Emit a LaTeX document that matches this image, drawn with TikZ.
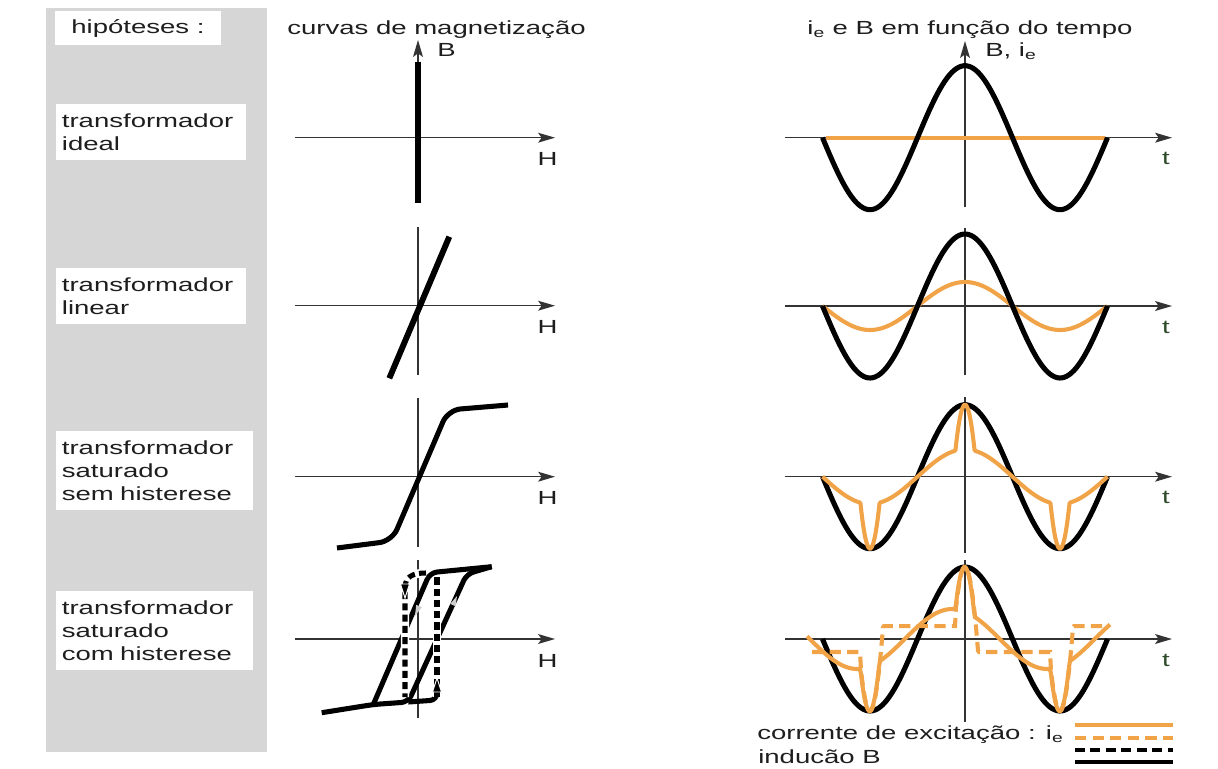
\documentclass[tikz,border=0pt]{standalone}
\usepackage{fontspec}
\newfontfamily\lbl[FakeStretch=1.45]{Liberation Sans}
\usetikzlibrary{positioning,calc,arrows.meta}
\definecolor{orng}{RGB}{241,163,72}
\definecolor{panel}{RGB}{214,214,214}
\definecolor{ink}{RGB}{30,30,30}
\definecolor{tcol}{RGB}{45,75,40}

\begin{document}
\begin{tikzpicture}[x=0.025cm, y=-0.025cm, >={Stealth[length=12pt,width=7pt,inset=2.5pt]},
  txt/.style={font=\lbl\fontsize{13.5pt}{16.4pt}\selectfont, text=ink, inner sep=0pt},
  box/.style={txt, fill=white, align=left, anchor=north west, inner xsep=4pt, inner ysep=6.5pt},
  axis/.style={line width=1.1pt, draw=black!80},
  Bcurve/.style={line width=3.6pt, black},
  icurve/.style={line width=2.9pt, orng},
  idash/.style={icurve, dash pattern=on 8pt off 4.5pt},
  bdash/.style={line width=3.6pt, black, dash pattern=on 5pt off 3pt},
  halo/.style={line width=6pt, white},
  declare function={
    ph(\x)=(\x-965)*1.8947;
    bb(\x)=cos(ph(\x));
    sat(\u)=(abs(\u)<0.95)*0.38*(\u)+(abs(\u)>=0.95)*((\u>0)-(\u<0))*(0.361+(abs(\u)-0.95)*12.78);
    fall(\u)=(\u<-0.95)*sat(\u)+(\u>=-0.95)*max(-0.18,1-(1-(\u))*12.78);
    rise(\u)=(\u>0.95)*sat(\u)+(\u<=0.95)*min(0.18,-1+(1+(\u))*12.78);
    hys(\x)=sat(bb(\x))-0.17*sin(ph(\x));
    stp(\x)=(sin(ph(\x))>0)*fall(bb(\x))+(sin(ph(\x))<=0)*rise(bb(\x));
  }]

\fill[white] (0,0) rectangle (1218,769);
\useasboundingbox (0,0) rectangle (1218,769);

% left column
\fill[panel] (46,8) rectangle (266.5,752);
\node[txt, fill=white, minimum width=4.15cm, minimum height=0.85cm] (hyp) at (138,28.4) {hipóteses :};
\node[box, text width=4.465cm] (r1) at (56,104) {transformador\\ideal};
\node[box, text width=4.465cm] (r2) at (56,268) {transformador\\linear};
\node[box, text width=4.64cm] (r3) at (56,431) {transformador\\saturado\\sem histerese};
\node[box, text width=4.64cm] (r4) at (56,591) {transformador\\saturado\\com histerese};

% titles
\node[txt, anchor=base] (tmag) at (436.5,34.5) {curvas de magnetização};
\node[txt, anchor=base] (ttim) at (970,34.5) {i\textsubscript{e} e B em função do tempo};

% magnetization curves
\coordinate (Bo) at (418,203);
\coordinate (Bt) at (418,40);
\draw[axis,<-] (Bt) -- (Bo);
\node[txt, anchor=base west] (lB) at (437,56) {B};
\foreach \y [count=\k] in {137.7,305.7,476.7,639}
  \draw[axis,->] (295,\y) -- (555,\y) node[txt, anchor=base] (lH\k) at (547.5,\y+28) {H};
\draw[axis] (418,226.7) -- (418,375);
\draw[axis] (418,398) -- (418,547);
\draw[axis] (418,560) -- (418,718);

\draw[Bcurve, line width=4.3pt] (418,61.7) -- (418,203.3);
\draw[Bcurve, line width=4.2pt] (389.3,378.3) -- (449.3,236.7);
\draw[Bcurve, rounded corners=9pt] (337,548) -- (392,541) -- (448,410) -- (508,405);

% hysteresis loop
\draw[Bcurve, rounded corners=5pt] (321.7,712.7) -- (373.3,704.5) -- (408.3,702) -- (466.7,574) -- (491.7,566.7);
\draw[Bcurve, rounded corners=5pt] (491.7,566.7) -- (430,572.7) -- (373.3,704.5);
\draw[Bcurve, rounded corners=5pt] (408.3,702) -- (437,700) -- (437,690);
\draw[halo] (426,573) .. controls (412,573) and (405,577) .. (405,588) -- (405,697);
\draw[bdash] (426,573) .. controls (412,573) and (405,577) .. (405,588) -- (405,697);
\draw[halo] (437,697) -- (437,577);
\draw[bdash] (437,697) -- (437,577);
\filldraw[fill=black, draw=white, line width=0.7pt] (405,598) -- (409.5,584) -- (400.5,584) -- cycle;
\filldraw[fill=black, draw=white, line width=0.7pt] (437,678) -- (441.5,692) -- (432.5,692) -- cycle;
\fill[gray!40] (415,616) -- (421.8,607.2) -- (416.2,604.8) -- cycle;
\fill[gray!40] (457,596) -- (455.6,606.3) -- (450.2,603.9) -- cycle;

% time curves
\coordinate (To) at (965,207);
\coordinate (Tt) at (965,41);
\draw[axis,<-] (Tt) -- (To);
\node[txt, anchor=base west] (lBi) at (985,56.7) {B, i\textsubscript{e}};
\draw[axis] (965,228) -- (965,375);
\draw[axis] (965,397) -- (965,553);
\draw[axis] (965,560) -- (965,722);
\foreach \y [count=\k] in {137.7,306,476.7,639}
  \draw[axis,->] (785,\y) -- (1172,\y) node[txt, text=tcol, anchor=base] (lt\k) at (1166,\y+27) {t};

\draw[icurve] (826,137.7) -- (1105,137.7);
\draw[Bcurve] plot[domain=822.5:1107.5, samples=120] (\x,{137.7-72*bb(\x)});

\draw[icurve] plot[domain=822.5:1107.5, samples=120] (\x,{306-24*bb(\x)});
\draw[Bcurve] plot[domain=822.5:1107.5, samples=120] (\x,{306-72*bb(\x)});

\draw[Bcurve] plot[domain=822.5:1107.5, samples=120] (\x,{476.7-72*bb(\x)});
\draw[icurve] plot[domain=822.5:1107.5, samples=286] (\x,{476.7-72*sat(bb(\x))});

\draw[Bcurve] plot[domain=822.5:1107.5, samples=120] (\x,{639-72*bb(\x)});
\draw[idash] plot[domain=812:1108, samples=297] (\x,{639-72*stp(\x)});
\draw[icurve] plot[domain=807:1110, samples=304] (\x,{639-72*hys(\x)});

% legend
\node[txt, anchor=base west] (lg1) at (757,739) {corrente de excitação : i\textsubscript{e}};
\node[txt, anchor=base west] (lg2) at (758,763) {inducão B};
\draw[icurve] (1075,725) -- (1173,725);
\draw[idash] (1075,738) -- (1173,738);
\draw[bdash, line width=2.9pt, dash pattern=on 7pt off 4pt] (1075,750) -- (1173,750);
\draw[Bcurve, line width=2.9pt] (1075,762) -- (1173,762);
\end{tikzpicture}
\end{document}
